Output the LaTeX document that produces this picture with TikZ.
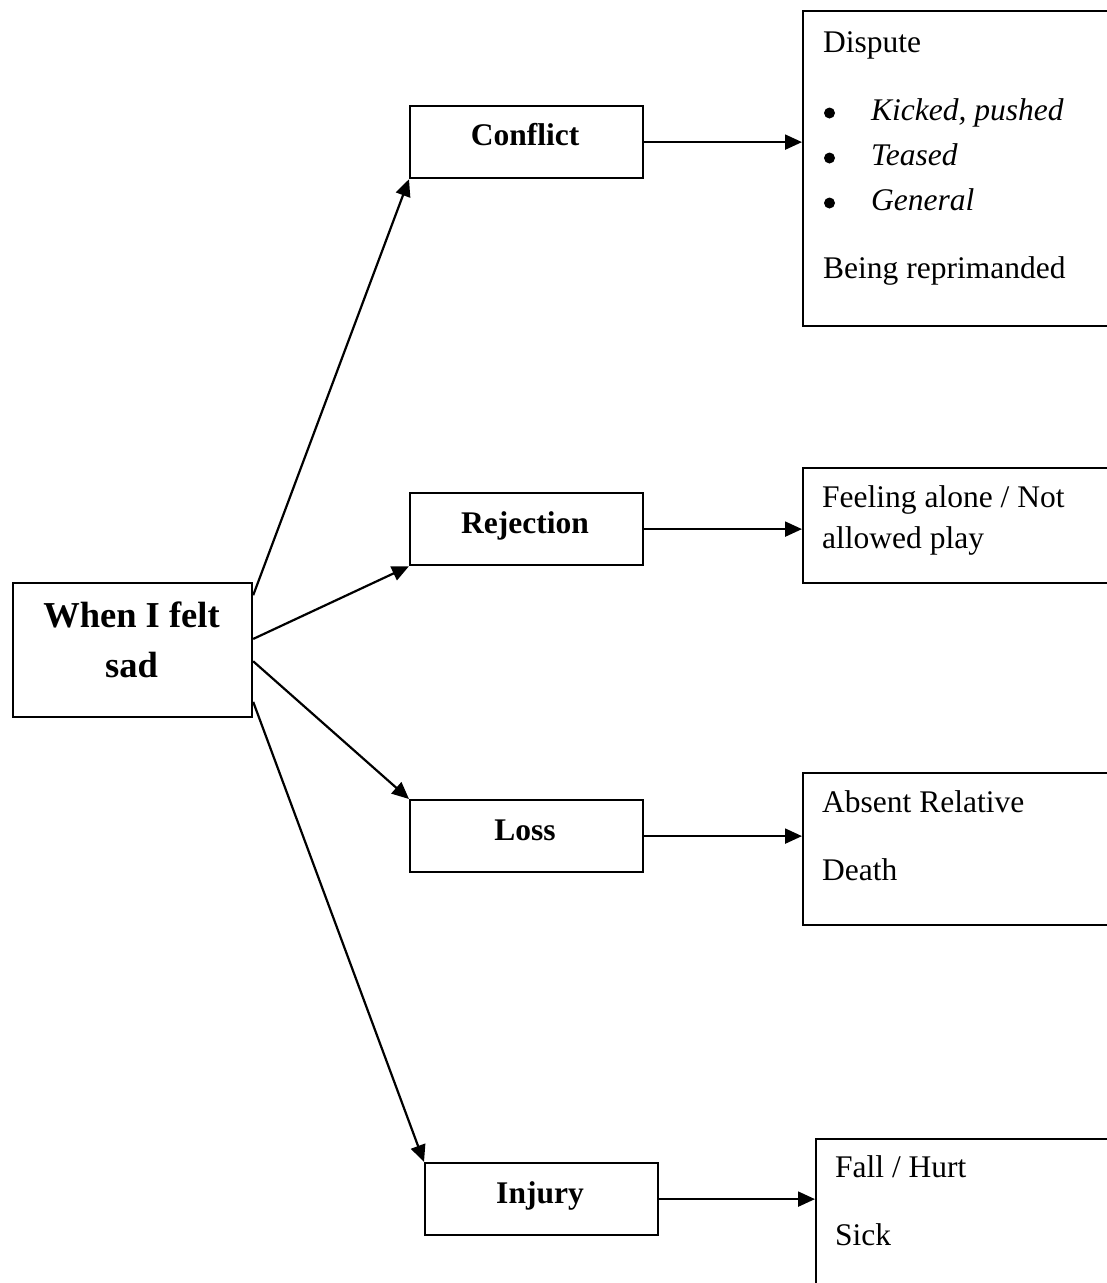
\documentclass[tikz,border=0pt]{standalone}
\usepackage{fontspec}
\setmainfont{Liberation Serif}
\usetikzlibrary{arrows.meta,calc}
\begin{document}
\begin{tikzpicture}[x=1pt,y=-1pt,
  box/.style={draw,line width=2.2pt,inner sep=0pt,anchor=north west},
  txt/.style={inner sep=0pt,font=\fontsize{31.5}{44}\selectfont},
  btxt/.style={inner sep=0pt,font=\bfseries\fontsize{31.5}{40}\selectfont,anchor=base},
  dot/.style={circle,fill,inner sep=0pt,minimum size=11pt},
  arr/.style={line width=2.2pt,-{Triangle[length=17pt,width=15pt]}}]
\useasboundingbox (0,0) rectangle (1107,1283);
\clip (0,0) rectangle (1107,1283);
% main
\node[box,minimum width=239pt,minimum height=134pt] (main) at (12,582) {};
\node[inner sep=0pt,font=\bfseries\fontsize{36.5}{50}\selectfont,anchor=base] (mt1) at (131.5,627) {When I felt};
\node[inner sep=0pt,font=\bfseries\fontsize{36.5}{50}\selectfont,anchor=base] (mt2) at (131.5,677) {sad};
% middle boxes
\node[box,minimum width=233pt,minimum height=72pt] (conf) at (409,105) {};
\node[btxt] (tconf) at (525,145) {Conflict};
\node[box,minimum width=233pt,minimum height=72pt] (rej) at (409,492) {};
\node[btxt] (trej) at (525,533) {Rejection};
\node[box,minimum width=233pt,minimum height=72pt] (loss) at (409,799) {};
\node[btxt] (tloss) at (525,840) {Loss};
\node[box,minimum width=233pt,minimum height=72pt] (inj) at (424,1162) {};
\node[btxt] (tinj) at (540,1203) {Injury};
% right boxes
\node[box,minimum width=400pt,minimum height=315pt] (r1) at (802,10) {};
\node[txt,anchor=base west] (r1a) at (823,52) {Dispute};
\node[dot] (r1b1) at (829.5,113) {};
\node[txt,anchor=base west] (r1b) at (871,120) {\itshape Kicked, pushed};
\node[dot] (r1c1) at (829.5,158) {};
\node[txt,anchor=base west] (r1c) at (871,165) {\itshape Teased};
\node[dot] (r1d1) at (829.5,203) {};
\node[txt,anchor=base west] (r1d) at (871,210) {\itshape General};
\node[txt,anchor=base west] (r1e) at (823,278) {Being reprimanded};
\node[box,minimum width=400pt,minimum height=115pt] (r2) at (802,467) {};
\node[txt,anchor=base west] (r2a) at (822,507) {Feeling alone / Not};
\node[txt,anchor=base west] (r2b) at (822,548) {allowed play};
\node[box,minimum width=400pt,minimum height=152pt] (r3) at (802,772) {};
\node[txt,anchor=base west] (r3a) at (822,812) {Absent Relative};
\node[txt,anchor=base west] (r3b) at (822,880) {Death};
\node[box,minimum width=400pt,minimum height=300pt] (r4) at (815,1138) {};
\node[txt,anchor=base west] (r4a) at (835,1177) {Fall / Hurt};
\node[txt,anchor=base west] (r4b) at (835,1245) {Sick};
% connectors
\draw[arr] ($(main.north east)!0.097!(main.south east)$) -- (conf.south west);
\draw[arr] ($(main.north east)!0.418!(main.south east)$) -- (rej.south west);
\draw[arr] ($(main.north east)!0.582!(main.south east)$) -- (loss.north west);
\draw[arr] ($(main.north east)!0.88!(main.south east)$) -- (inj.north west);
\draw[arr] (conf.east) -- (r1.west |- conf.east);
\draw[arr] (rej.east) -- (r2.west |- rej.east);
\draw[arr] (loss.east) -- (r3.west |- loss.east);
\draw[arr] (inj.east) -- (r4.west |- inj.east);
\end{tikzpicture}
\end{document}
